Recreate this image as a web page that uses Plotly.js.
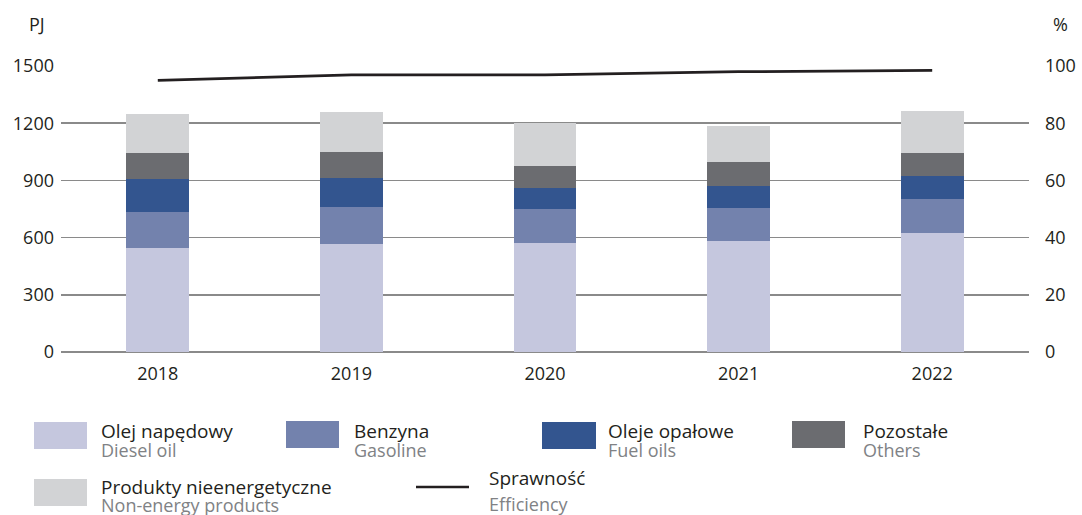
<!DOCTYPE html>
<html>
<head>
<meta charset="utf-8">
<script src="https://cdn.plot.ly/plotly-3.0.1.min.js"></script>
<style>
  html, body { margin: 0; padding: 0; background: #ffffff; }
  #chart { width: 1082px; height: 515px; }
</style>
</head>
<body>
<div id="chart"></div>
<script>
// ---- data ----
const years = ['2018', '2019', '2020', '2021', '2022'];
const dieselOil = [546, 565, 571, 581, 623];
const gasoline = [189, 195, 178, 173, 179];
const fuelOils = [172, 152, 110, 116, 120];
const others = [136, 136, 116, 126, 121];
const nonEnergy = [205, 210, 226, 189, 221];
const efficiency = [95.0, 96.9, 96.9, 98.0, 98.5];

const leftTicks = [0, 300, 600, 900, 1200, 1500];
const rightTicks = [0, 20, 40, 60, 80, 100];

const seriesPL = ['Olej napędowy', 'Benzyna', 'Oleje opałowe', 'Pozostałe', 'Produkty nieenergetyczne', 'Sprawność'];
const seriesEN = ['Diesel oil', 'Gasoline', 'Fuel oils', 'Others', 'Non-energy products', 'Efficiency'];
const colors = ['#c5c7de', '#7382ad', '#33558f', '#6b6c70', '#d2d3d5', '#231f20'];

// ---- layout geometry (pixels) ----
const W = 1082, H = 515;
const M = { l: 61, r: 53, t: 66, b: 163 };
const PW = W - M.l - M.r, PH = H - M.t - M.b;
const fx = p => (p - M.l) / PW;
const fy = p => (H - M.b - p) / PH;

const FONT = 'Open Sans, Noto Sans, sans-serif';
const DARK = '#231f20';
const GREY = '#808285';

const barValues = [dieselOil, gasoline, fuelOils, others, nonEnergy];
const traces = barValues.map((vals, i) => ({
  type: 'bar',
  x: years,
  y: vals,
  name: seriesPL[i],
  marker: { color: colors[i], line: { width: 0 } },
  width: 0.325,
  hoverinfo: 'y+name'
}));
traces.push({
  type: 'scatter',
  mode: 'lines',
  x: years,
  y: efficiency,
  yaxis: 'y2',
  name: seriesPL[5],
  line: { color: colors[5], width: 2.7 }
});

// ---- custom legend ----
const swatches = [
  { x0: 34, x1: 87, y0: 422, y1: 449, tx: 99, pl: 430, en: 448.5 },
  { x0: 286, x1: 339, y0: 421, y1: 448, tx: 352, pl: 430, en: 448.5 },
  { x0: 542, x1: 596, y0: 422, y1: 449, tx: 606, pl: 430, en: 448.5 },
  { x0: 792, x1: 845, y0: 421, y1: 448, tx: 861, pl: 430, en: 448.5 },
  { x0: 34, x1: 87, y0: 479, y1: 506, tx: 99, pl: 485.5, en: 504 },
  { x0: 416, x1: 469, y0: 487, y1: 487, tx: 487, pl: 476.5, en: 503, line: true }
];

const shapes = [];
const annotations = [];
swatches.forEach((s, i) => {
  if (s.line) {
    shapes.push({ type: 'line', xref: 'paper', yref: 'paper',
      x0: fx(s.x0), x1: fx(s.x1), y0: fy(s.y0), y1: fy(s.y1),
      line: { color: colors[i], width: 2.7 } });
  } else {
    shapes.push({ type: 'rect', xref: 'paper', yref: 'paper',
      x0: fx(s.x0), x1: fx(s.x1), y0: fy(s.y0), y1: fy(s.y1),
      fillcolor: colors[i], line: { width: 0 } });
  }
  annotations.push({ xref: 'paper', yref: 'paper', x: fx(s.tx), y: fy(s.pl + 1),
    xanchor: 'left', yanchor: 'middle', showarrow: false, text: seriesPL[i],
    font: { family: FONT, size: 19, color: DARK } });
  annotations.push({ xref: 'paper', yref: 'paper', x: fx(s.tx), y: fy(s.en + 1),
    xanchor: 'left', yanchor: 'middle', showarrow: false, text: seriesEN[i],
    font: { family: FONT, size: 18, color: GREY } });
});

annotations.push({ xref: 'paper', yref: 'paper', x: fx(36.5), y: fy(24), xanchor: 'center', yanchor: 'middle',
  showarrow: false, text: 'PJ', font: { family: FONT, size: 18, color: DARK } });
annotations.push({ xref: 'paper', yref: 'paper', x: fx(1060), y: fy(24), xanchor: 'center', yanchor: 'middle',
  showarrow: false, text: '%', font: { family: FONT, size: 18, color: DARK } });

const layout = {
  width: W, height: H,
  margin: M,
  paper_bgcolor: '#ffffff',
  plot_bgcolor: '#ffffff',
  barmode: 'stack',
  showlegend: false,
  font: { family: FONT, size: 18, color: DARK },
  xaxis: {
    type: 'category',
    categoryorder: 'array',
    categoryarray: years,
    range: [-0.5, 4.5],
    showgrid: false,
    showline: false,
    zeroline: false,
    ticks: '',
    ticklabelstandoff: 9,
    tickfont: { family: FONT, size: 18, color: DARK },
    fixedrange: true
  },
  yaxis: {
    range: [0, 1500],
    tickvals: leftTicks,
    ticktext: leftTicks.map(String),
    showgrid: true,
    gridcolor: '#8a8a8a',
    gridwidth: 1.5,
    zeroline: true,
    zerolinecolor: '#8a8a8a',
    zerolinewidth: 1.5,
    showline: false,
    ticks: '',
    ticklabelstandoff: 6,
    tickfont: { family: FONT, size: 18, color: DARK },
    fixedrange: true
  },
  yaxis2: {
    overlaying: 'y',
    side: 'right',
    range: [0, 100],
    tickvals: rightTicks,
    ticktext: rightTicks.map(String),
    showgrid: false,
    zeroline: false,
    showline: false,
    ticks: '',
    ticklabelstandoff: 15,
    tickfont: { family: FONT, size: 18, color: DARK },
    fixedrange: true
  },
  shapes: shapes,
  annotations: annotations
};

Plotly.newPlot('chart', traces, layout, { displayModeBar: false, staticPlot: true });
</script>
</body>
</html>
